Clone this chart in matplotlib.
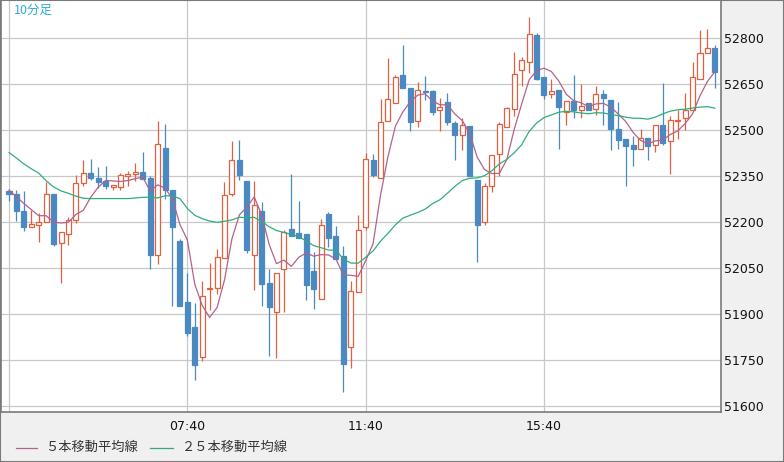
import matplotlib
matplotlib.use("Agg")
import matplotlib.pyplot as plt
import matplotlib.patches as patches
from matplotlib.lines import Line2D
import pandas as pd

# 10-minute candles, first bar 03:40
opens = [52302, 52292, 52237, 52182, 52190, 52200, 52292, 52131, 52160, 52206,
         52327, 52360, 52343, 52332, 52313, 52314, 52348, 52356, 52361, 52343,
         52091, 52442, 52305, 52139, 51940, 51856, 51761, 51980, 51984, 52084,
         52291, 52403, 52332, 52092, 52236, 52002, 51908, 52046, 52178, 52164,
         52161, 52041, 51948, 52227, 52155, 52090, 51792, 51970, 52182, 52403,
         52343, 52530, 52588, 52680, 52637, 52530, 52628, 52628, 52566, 52590,
         52523, 52484, 52514, 52338, 52200, 52318, 52421, 52510, 52568, 52694,
         52722, 52808, 52673, 52616, 52631, 52559, 52595, 52564, 52588, 52568,
         52618, 52596, 52504, 52470, 52449, 52439, 52474, 52450, 52516, 52463,
         52528, 52539, 52564, 52667, 52751, 52765]
highs = [52308, 52305, 52300, 52240, 52229, 52331, 52292, 52168, 52216, 52354,
         52401, 52405, 52378, 52381, 52319, 52360, 52367, 52392, 52427, 52348,
         52528, 52520, 52305, 52145, 52033, 51935, 52006, 52066, 52111, 52330,
         52462, 52468, 52332, 52334, 52264, 52048, 52033, 52174, 52357, 52269,
         52161, 52102, 52210, 52232, 52188, 52122, 52008, 52221, 52425, 52422,
         52599, 52735, 52680, 52775, 52637, 52656, 52675, 52631, 52604, 52621,
         52528, 52539, 52514, 52338, 52327, 52417, 52526, 52575, 52753, 52737,
         52869, 52816, 52673, 52667, 52631, 52595, 52678, 52648, 52588, 52644,
         52631, 52596, 52591, 52470, 52479, 52504, 52474, 52515, 52651, 52544,
         52564, 52621, 52722, 52824, 52830, 52775]
lows = [52267, 52202, 52171, 52182, 52136, 52200, 52122, 52001, 52126, 52198,
        52316, 52338, 52311, 52308, 52303, 52305, 52316, 52334, 52340, 52047,
        52064, 52275, 51926, 51926, 51829, 51685, 51748, 51913, 51966, 52084,
        52283, 52338, 52098, 51979, 51926, 51763, 51758, 51908, 52153, 52147,
        51944, 51917, 51948, 52117, 52079, 51647, 51725, 51970, 52175, 52345,
        52343, 52530, 52588, 52635, 52495, 52508, 52596, 52547, 52495, 52517,
        52401, 52433, 52348, 52069, 52189, 52296, 52348, 52510, 52546, 52644,
        52686, 52662, 52601, 52604, 52439, 52517, 52537, 52537, 52566, 52547,
        52517, 52433, 52436, 52318, 52381, 52436, 52401, 52427, 52452, 52356,
        52471, 52501, 52564, 52664, 52751, 52635]
closes = [52292, 52234, 52182, 52193, 52200, 52292, 52129, 52168, 52205, 52327,
          52360, 52342, 52330, 52316, 52319, 52352, 52357, 52361, 52340, 52091,
          52455, 52305, 52182, 51926, 51839, 51734, 51959, 51985, 52087, 52288,
          52403, 52352, 52107, 52256, 51999, 51924, 52033, 52167, 52153, 52147,
          51993, 51982, 52191, 52149, 52079, 51736, 51975, 52174, 52405, 52354,
          52526, 52601, 52673, 52635, 52525, 52631, 52622, 52557, 52573, 52525,
          52482, 52515, 52348, 52189, 52318, 52417, 52519, 52572, 52683, 52729,
          52811, 52667, 52615, 52628, 52574, 52595, 52564, 52579, 52566, 52618,
          52604, 52503, 52466, 52446, 52439, 52474, 52446, 52515, 52456, 52533,
          52531, 52566, 52673, 52751, 52767, 52689]

# moving average values before a full window is visible
ma5_head = [52303, 52282, 52260, 52240]
ma25_head = [52426, 52408, 52389, 52373, 52359, 52334, 52314, 52301, 52293, 52284,
             52277, 52276, 52276, 52276, 52276, 52276, 52276, 52278, 52280, 52281,
             52278, 52285, 52285, 52276]

tick_idx = [0, 24, 48, 72]
tick_labels = ["", "07:40", "11:40", "15:40"]
y_ticks = list(range(51600, 52801, 150))

UP = "#e0603f"
DOWN = "#4a89c2"
MA5_COLOR = "#b5618c"
MA25_COLOR = "#2fae78"

s = pd.Series(closes, dtype=float)
ma5 = s.rolling(5).mean()
ma5.iloc[:4] = ma5_head
ma25 = s.rolling(25).mean()
ma25.iloc[:24] = ma25_head

fig = plt.figure(figsize=(7.84, 4.62), dpi=100, facecolor="#f0f0f0")
W, H = 784, 462
ax = fig.add_axes([1 / W, (H - 412) / H, 720 / W, 412 / H])
ax.set_facecolor("white")

for i, (o, h, l, c) in enumerate(zip(opens, highs, lows, closes)):
    w = 0.68
    if c >= o:
        top, bot = c, o
        ax.vlines(i, top, h, color=UP, linewidth=0.9, zorder=3)
        ax.vlines(i, l, bot, color=UP, linewidth=0.9, zorder=3)
        ax.add_patch(patches.Rectangle((i - w / 2, bot), w, max(top - bot, 3),
                                       facecolor="white", edgecolor=UP,
                                       linewidth=0.9, zorder=3))
    else:
        ax.vlines(i, l, h, color=DOWN, linewidth=0.9, zorder=3)
        ax.add_patch(patches.Rectangle((i - w / 2, c), w, o - c,
                                       facecolor=DOWN, edgecolor=DOWN,
                                       linewidth=0.9, zorder=3))

x = list(range(len(closes)))
ax.plot(x, ma5, color=MA5_COLOR, linewidth=0.9, zorder=4)
ax.plot(x, ma25, color=MA25_COLOR, linewidth=0.9, zorder=4)

ax.set_xlim(-1.08, 95.83)
ax.set_ylim(51580.6, 52923)
ax.set_xticks(tick_idx)
ax.set_xticklabels(tick_labels)
ax.set_yticks(y_ticks)
ax.yaxis.tick_right()
ax.tick_params(axis="both", length=0, labelsize=9, colors="#111111")
ax.tick_params(axis="x", pad=6)
ax.tick_params(axis="y", pad=2)
ax.grid(True, color="#c8c8c8", linewidth=0.9)
ax.set_axisbelow(True)
for sp in ax.spines.values():
    sp.set_color("#7a7a7a")
    sp.set_linewidth(1.2)

jp = ["Noto Sans CJK JP", "DejaVu Sans"]
ax.text(13 / 720, 1 - 10 / 412, "10分足", transform=ax.transAxes, family=jp,
        fontsize=9, color="#33aadd", va="center", ha="left")

ly = 1 - 447.5 / H
fig.add_artist(Line2D([16 / W, 37 / W], [ly, ly], color=MA5_COLOR, linewidth=0.9))
fig.text(45 / W, ly, "５本移動平均線", family=jp, fontsize=9.5, color="#333333",
         va="center", ha="left")
fig.add_artist(Line2D([150 / W, 173 / W], [ly, ly], color=MA25_COLOR, linewidth=0.9))
fig.text(182 / W, ly, "２５本移動平均線", family=jp, fontsize=9.5, color="#333333",
         va="center", ha="left")

fig.add_artist(patches.Rectangle((0, 0), 1, 1, transform=fig.transFigure,
                                 fill=False, edgecolor="#7a7a7a", linewidth=1.5))

fig.savefig("out.png", dpi=100, facecolor=fig.get_facecolor())
